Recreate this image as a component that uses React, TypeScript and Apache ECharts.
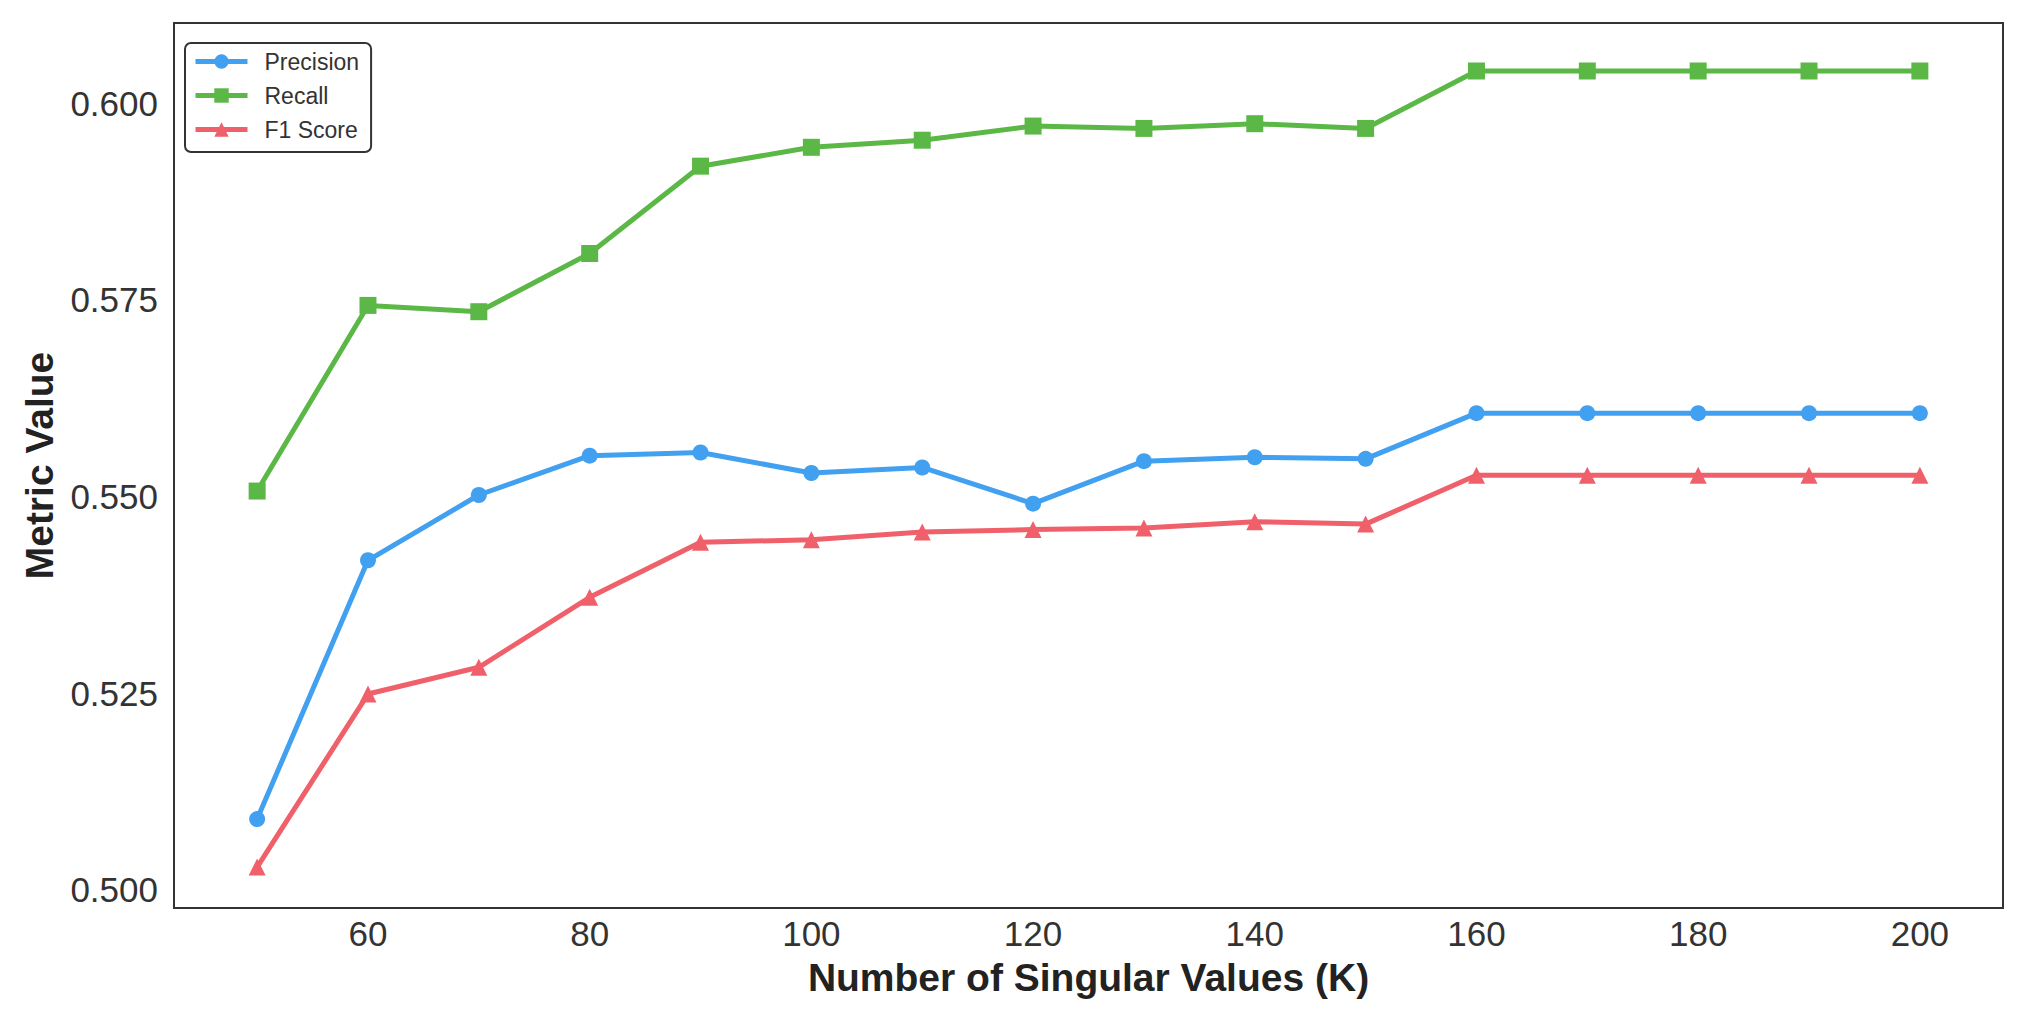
import React, { useEffect, useRef } from "react";
import * as echarts from "echarts";

const kValues = [50, 60, 70, 80, 90, 100, 110, 120, 130, 140, 150, 160, 170, 180, 190, 200];
const precision = [0.509, 0.5419, 0.5502, 0.5552, 0.5556, 0.553, 0.5537, 0.5491, 0.5545, 0.555, 0.5548, 0.5606, 0.5606, 0.5606, 0.5606, 0.5606];
const recall = [0.5507, 0.5743, 0.5735, 0.5809, 0.592, 0.5944, 0.5953, 0.5971, 0.5968, 0.5974, 0.5968, 0.6041, 0.6041, 0.6041, 0.6041, 0.6041];
const f1Score = [0.5029, 0.5249, 0.5283, 0.5372, 0.5442, 0.5445, 0.5455, 0.5458, 0.546, 0.5468, 0.5465, 0.5527, 0.5527, 0.5527, 0.5527, 0.5527];
const xTicks = [60, 80, 100, 120, 140, 160, 180, 200];
const yTicks = [0.5, 0.525, 0.55, 0.575, 0.6];

const FONT = "Liberation Sans, Arial, sans-serif";

export default function App() {
  const ref = useRef<HTMLDivElement>(null);
  useEffect(() => {
    document.body.style.margin = "0";
    const chart = echarts.init(ref.current!, undefined, { renderer: "svg" });
    const mk = (name: string, vals: number[], color: string, symbol: string, size: number) => ({
      name,
      type: "line",
      data: kValues.map((k, i) => [k, vals[i]]),
      symbol,
      symbolSize: size,
      showSymbol: true,
      lineStyle: { color, width: 5 },
      itemStyle: { color },
      emphasis: { disabled: true },
    });
    chart.setOption({
      animation: false,
      backgroundColor: "#ffffff",
      grid: {
        left: 174,
        right: 17,
        top: 23,
        bottom: 104,
        show: true,
        borderColor: "#333333",
        borderWidth: 2,
        backgroundColor: "transparent",
      },
      legend: {
        orient: "vertical",
        left: 185,
        top: 43,
        padding: [7, 12, 11, 8],
        itemGap: 11,
        itemWidth: 52,
        itemHeight: 18,
        backgroundColor: "#ffffff",
        borderColor: "#333333",
        borderWidth: 2,
        borderRadius: 6,
        lineStyle: { width: 5 },
        textStyle: { fontFamily: FONT, fontSize: 23, color: "#333333", padding: [0, 0, 0, 12] },
        data: ["Precision", "Recall", "F1 Score"],
      },
      xAxis: {
        type: "value",
        min: 42.5,
        max: 207.5,
        name: "Number of Singular Values (K)",
        nameLocation: "middle",
        nameGap: 50,
        nameTextStyle: { fontFamily: FONT, fontSize: 39, fontWeight: "bold", color: "#222222" },
        axisLine: { show: false },
        axisTick: { show: false },
        splitLine: { show: false },
        axisLabel: {
          customValues: xTicks,
          fontFamily: FONT,
          fontSize: 35,
          color: "#333333",
          margin: 8,
        },
      },
      yAxis: {
        type: "value",
        min: 0.4977,
        max: 0.6102,
        name: "Metric Value",
        nameLocation: "middle",
        nameGap: 115,
        nameTextStyle: { fontFamily: FONT, fontSize: 39, fontWeight: "bold", color: "#222222" },
        axisLine: { show: false },
        axisTick: { show: false },
        splitLine: { show: false },
        axisLabel: {
          customValues: yTicks,
          fontFamily: FONT,
          fontSize: 35,
          color: "#333333",
          margin: 16,
          formatter: (v: number) => v.toFixed(3),
        },
      },
      series: [
        mk("Precision", precision, "#42A0F0", "circle", 16),
        mk("Recall", recall, "#5BB846", "rect", 17),
        mk("F1 Score", f1Score, "#F0606A", "triangle", 17),
      ],
    });
    return () => chart.dispose();
  }, []);
  return <div ref={ref} style={{ width: 2020, height: 1012, position: "absolute", left: 0, top: 0 }} />;
}
